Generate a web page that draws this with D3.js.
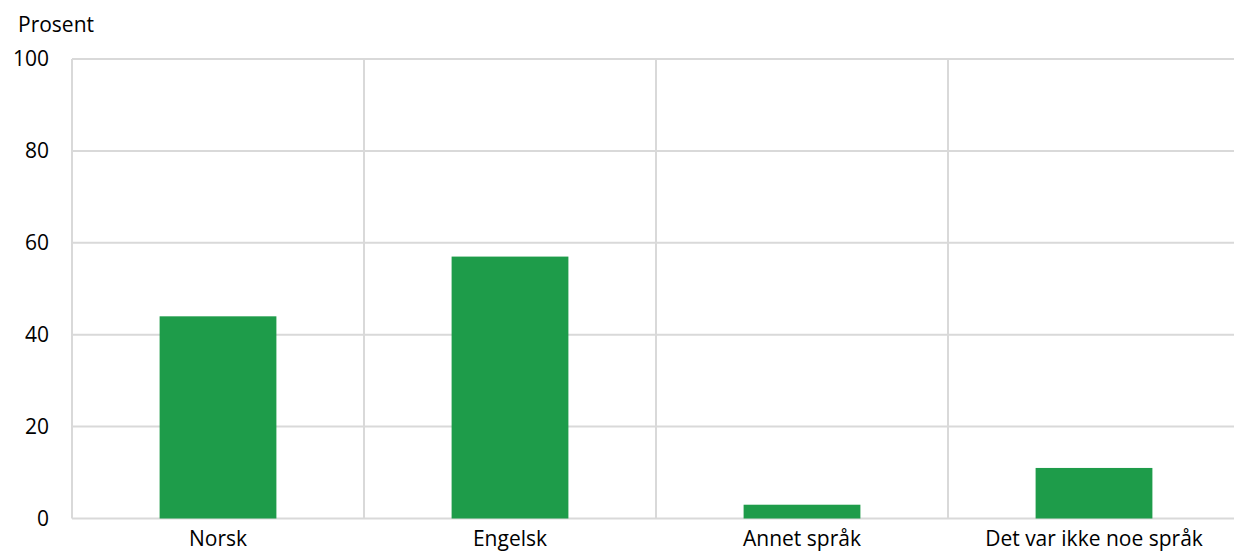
<!DOCTYPE html>
<html><head><meta charset="utf-8">
<script src="https://cdn.jsdelivr.net/npm/d3@7"></script>
<style>body{margin:0;background:#fff;overflow:hidden}svg{display:block;font-family:"Open Sans",sans-serif}</style>
</head><body><svg id="c" width="1234" height="552"></svg>
<script>
const categories = ["Norsk","Engelsk","Annet språk","Det var ikke noe språk"];
const values = [44,57,3,11];
const yTicks = [0,20,40,60,80,100];
const yLabel = "Prosent";

const svg = d3.select("#c");
const m = {left:72, top:59, bottom:518.5};
const bandW = 292;
const x = d3.scaleBand().domain(categories).range([m.left, m.left + bandW*categories.length]).paddingInner(0).paddingOuter(0);
const y = d3.scaleLinear().domain([0,100]).range([m.bottom, m.top]);
const grid = "#d9d9d9";
const fs = 21;

svg.append("g").selectAll("line").data(yTicks).join("line")
  .attr("x1", m.left).attr("x2", 1234)
  .attr("y1", d=>y(d)).attr("y2", d=>y(d))
  .attr("stroke", grid).attr("stroke-width", 2);
const bounds = categories.map(c=>x(c)).concat([x(categories[categories.length-1])+x.bandwidth()]);
svg.append("g").selectAll("line").data(bounds).join("line")
  .attr("x1", d=>d).attr("x2", d=>d)
  .attr("y1", m.top).attr("y2", m.bottom)
  .attr("stroke", grid).attr("stroke-width", 2);

const bw = x.bandwidth()*0.4;
svg.append("g").selectAll("rect").data(values).join("rect")
  .attr("x", (d,i)=>x(categories[i]) + (x.bandwidth()-bw)/2)
  .attr("width", bw)
  .attr("y", d=>y(d))
  .attr("height", d=>y(0)-y(d))
  .attr("fill", "#1e9c4a");

svg.append("g").selectAll("text").data(yTicks).join("text")
  .attr("x", 49).attr("y", d=>y(d)).attr("dy","0.35em")
  .attr("text-anchor","end").attr("font-size",fs).attr("fill","#000")
  .text(d=>d);

svg.append("g").selectAll("text").data(categories).join("text")
  .attr("x", d=>x(d)+x.bandwidth()/2).attr("y", 546)
  .attr("text-anchor","middle").attr("font-size",fs).attr("fill","#000")
  .text(d=>d);

svg.append("text").attr("x",18).attr("y",32).attr("font-size",fs).attr("fill","#000").text(yLabel);
</script></body></html>
